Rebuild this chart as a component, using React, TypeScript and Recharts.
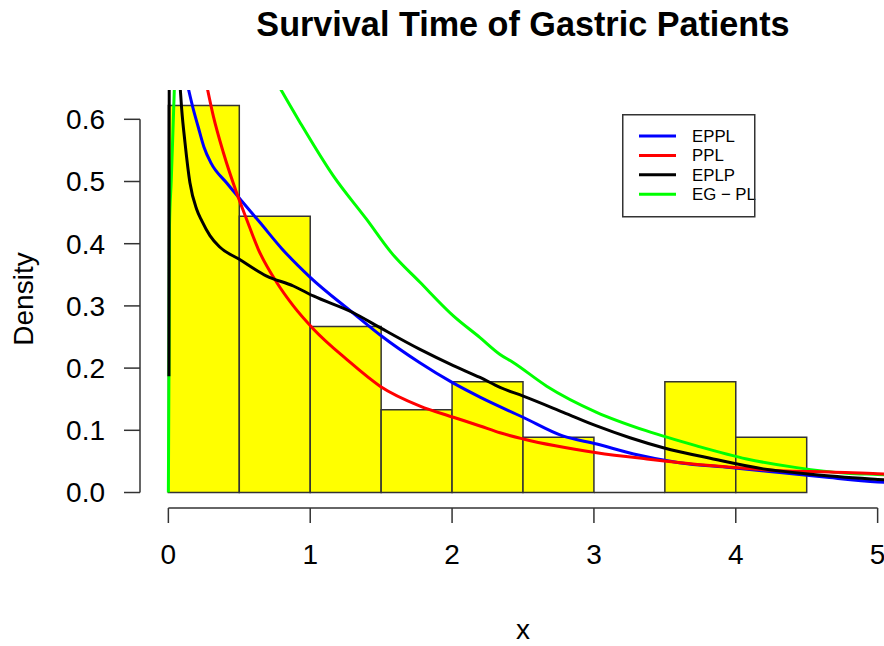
import React from 'react';
import {
  ComposedChart,
  Line,
  XAxis,
  YAxis,
  ReferenceArea,
  ReferenceLine,
  Legend,
  Label
} from 'recharts';

// histogram of survival times (bin width 0.5, n = 45)
const BIN_START = [0, 0.5, 1, 1.5, 2, 2.5, 3, 3.5, 4];
const BIN_DENSITY = [0.622, 0.444, 0.267, 0.133, 0.178, 0.089, 0, 0.178, 0.089];

// fitted densities
const EPPL_X = [0.135, 0.176, 0.21, 0.25, 0.3, 0.41, 0.505, 0.646, 0.8, 1.0, 1.3, 1.5, 1.77, 2.0, 2.2, 2.5, 2.78, 3.02, 3.28, 3.6, 3.96, 4.31, 4.66, 5.0, 5.2];
const EPPL_Y = [0.655, 0.616, 0.588, 0.556, 0.53, 0.498, 0.472, 0.434, 0.392, 0.346, 0.289, 0.252, 0.209, 0.177, 0.153, 0.121, 0.091, 0.078, 0.062, 0.048, 0.04, 0.032, 0.024, 0.017, 0.014];

const PPL_X = [0.27, 0.317, 0.387, 0.481, 0.552, 0.634, 0.763, 0.881, 1.022, 1.257, 1.492, 1.774, 2.009, 2.197, 2.338, 2.502, 3.019, 3.372, 3.841, 4.311, 4.664, 5.0, 5.2];
const PPL_Y = [0.655, 0.605, 0.547, 0.482, 0.439, 0.391, 0.338, 0.3, 0.263, 0.214, 0.171, 0.139, 0.121, 0.107, 0.096, 0.086, 0.064, 0.054, 0.043, 0.035, 0.033, 0.03, 0.029];

const EPLP_X = [0.004, 0.006, 0.04, 0.082, 0.094, 0.117, 0.152, 0.2, 0.235, 0.293, 0.36, 0.5, 0.693, 0.881, 1.022, 1.304, 1.492, 1.774, 2.009, 2.197, 2.338, 2.502, 2.784, 3.019, 3.254, 3.489, 3.841, 4.194, 4.546, 5.0, 5.2];
const EPLP_Y = [0.187, 0.66, null, 0.655, 0.616, 0.563, 0.498, 0.455, 0.437, 0.413, 0.395, 0.375, 0.348, 0.332, 0.316, 0.289, 0.265, 0.23, 0.204, 0.185, 0.169, 0.155, 0.129, 0.107, 0.088, 0.072, 0.054, 0.038, 0.029, 0.021, 0.018];

const EGPL_X = [0, 0.004, 0.008, 0.02, 0.03, 0.043, 0.4, 0.775, 0.928, 1.163, 1.398, 1.57, 1.774, 2.009, 2.197, 2.338, 2.431, 2.667, 3.019, 3.372, 3.724, 4.077, 4.429, 4.782, 5.0, 5.2];
const EGPL_Y = [0, 0.19, 0.43, 0.5, 0.566, 0.655, null, 0.655, 0.595, 0.509, 0.439, 0.386, 0.338, 0.284, 0.249, 0.222, 0.209, 0.171, 0.129, 0.099, 0.075, 0.054, 0.04, 0.031, 0.029, 0.027];

const X_TICKS = [0, 1, 2, 3, 4, 5];
const Y_TICKS = [0, 0.1, 0.2, 0.3, 0.4, 0.5, 0.6];

const LEGEND_NAMES = ['EPPL', 'PPL', 'EPLP', 'EG \u2212 PL'];
const LEGEND_COLORS = ['#0000ff', '#ff0000', '#000000', '#00ff00'];

const zip = (xs: number[], ys: (number | null)[]) => xs.map((x, i) => ({ x, y: ys[i] }));

const FONT = '"Liberation Sans", Arial, sans-serif';
const AXIS_COLOR = '#333';

const LegendBox = () => (
  <svg width={140} height={110} style={{ overflow: 'visible' }}>
    {LEGEND_NAMES.map((name, i) => (
      <g key={name}>
        <line x1={17} x2={54} y1={22 + i * 19.4} y2={22 + i * 19.4} stroke={LEGEND_COLORS[i]} strokeWidth={3} />
        <text x={70} y={22 + i * 19.4} dy="0.36em" fontSize={16.8} fill="#000" fontFamily={FONT}>
          {name}
        </text>
      </g>
    ))}
    <rect x={0.75} y={0.75} width={132} height={102} fill="none" stroke={AXIS_COLOR} strokeWidth={1.5} />
  </svg>
);

const YTitle = ({ viewBox }: any) => (
  <text
    x={viewBox.x + 23}
    y={viewBox.y + viewBox.height / 2}
    transform={`rotate(-90 ${viewBox.x + 23} ${viewBox.y + viewBox.height / 2})`}
    textAnchor="middle"
    dy="0.36em"
    fontSize={28}
    fill="#000"
    fontFamily={FONT}
  >
    Density
  </text>
);

export default function App() {
  return (
    <div
      style={{
        position: 'absolute',
        left: 0,
        top: 0,
        width: 884,
        height: 646,
        overflow: 'hidden',
        background: '#fff',
        fontFamily: FONT
      }}
    >
      <div
        style={{
          position: 'absolute',
          left: 0,
          top: 7,
          width: 1046,
          textAlign: 'center',
          fontSize: 34.2,
          lineHeight: 1,
          fontWeight: 'bold',
          color: '#000'
        }}
      >
        Survival Time of Gastric Patients
      </div>
      <ComposedChart width={920} height={646} margin={{ top: 90, right: 14, bottom: 0, left: 0 }}>
        <XAxis
          type="number"
          dataKey="x"
          domain={[-0.2, 5.2]}
          ticks={X_TICKS}
          interval={0}
          allowDataOverflow
          height={138}
          axisLine={false}
          tickLine={{ stroke: AXIS_COLOR, strokeWidth: 1.5 }}
          tickSize={15}
          tickMargin={21}
          tick={{ fill: '#000', fontSize: 28, fontFamily: FONT }}
        >
          <Label value="x" position="insideBottom" offset={7} fill="#000" fontSize={28} fontFamily={FONT} />
        </XAxis>
        <YAxis
          type="number"
          domain={[-0.0249, 0.6471]}
          ticks={Y_TICKS}
          interval={0}
          allowDataOverflow
          width={140}
          axisLine={false}
          tickLine={{ stroke: AXIS_COLOR, strokeWidth: 1.5 }}
          tickSize={16}
          tickMargin={19}
          tickFormatter={(v: number) => v.toFixed(1)}
          tick={{ fill: '#000', fontSize: 28, fontFamily: FONT }}
        >
          <Label content={<YTitle />} />
        </YAxis>

        {BIN_START.map((b, i) =>
          BIN_DENSITY[i] > 0 ? (
            <ReferenceArea
              key={`bin-${i}`}
              x1={b}
              x2={b + 0.5}
              y1={0}
              y2={BIN_DENSITY[i]}
              fill="#ffff00"
              fillOpacity={1}
              stroke={AXIS_COLOR}
              strokeWidth={1.5}
              ifOverflow="visible"
            />
          ) : (
            <ReferenceLine
              key={`bin-${i}`}
              segment={[{ x: b, y: 0 }, { x: b + 0.5, y: 0 }]}
              stroke={AXIS_COLOR}
              strokeWidth={1.5}
              ifOverflow="visible"
            />
          )
        )}

        <ReferenceLine segment={[{ x: 0, y: -0.0249 }, { x: 5, y: -0.0249 }]} stroke={AXIS_COLOR} strokeWidth={1.5} ifOverflow="visible" />
        <ReferenceLine segment={[{ x: -0.2, y: 0 }, { x: -0.2, y: 0.6 }]} stroke={AXIS_COLOR} strokeWidth={1.5} ifOverflow="visible" />

        <Line data={zip(EGPL_X, EGPL_Y)} dataKey="y" name="EG-PL" stroke="#00ff00" strokeWidth={3} dot={false} type="monotone" isAnimationActive={false} />
        <Line data={zip(EPPL_X, EPPL_Y)} dataKey="y" name="EPPL" stroke="#0000ff" strokeWidth={3} dot={false} type="monotone" isAnimationActive={false} />
        <Line data={zip(PPL_X, PPL_Y)} dataKey="y" name="PPL" stroke="#ff0000" strokeWidth={3} dot={false} type="monotone" isAnimationActive={false} />
        <Line data={zip(EPLP_X, EPLP_Y)} dataKey="y" name="EPLP" stroke="#000000" strokeWidth={3} dot={false} type="monotone" isAnimationActive={false} />

        <Legend
          layout="horizontal"
          verticalAlign="middle"
          align="center"
          content={() => <LegendBox />}
          wrapperStyle={{ position: 'absolute', left: 622, top: 114, width: 140, height: 110 }}
        />
      </ComposedChart>
    </div>
  );
}
